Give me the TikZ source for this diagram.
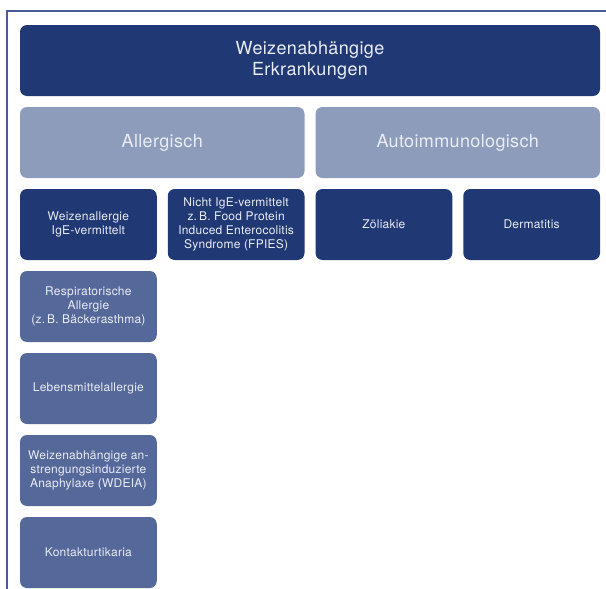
\documentclass[tikz,border=0pt]{standalone}
\usepackage{fontspec}
\setmainfont{TeX Gyre Heros}[LetterSpace=2]
\usetikzlibrary{positioning}
\definecolor{navy}{HTML}{203874}
\definecolor{paleblue}{HTML}{8E9CBC}
\definecolor{midblue}{HTML}{55689A}
\definecolor{frameblue}{HTML}{4A5C96}
\definecolor{boxtext}{HTML}{E9ECF4}
\tikzset{
    box/.style={rectangle, rounded corners=7pt, inner sep=0pt, outer sep=0pt,
      minimum height=71pt, align=center, text=boxtext},
    headbox/.style={box, fill=navy, minimum width=580pt,
      font=\fontsize{18}{21}\selectfont},
    groupbox/.style={box, fill=paleblue, minimum width=284.5pt,
      font=\fontsize{18}{21}\selectfont},
    leafbox/.style={box, fill=navy, minimum width=136.75pt,
      font=\fontsize{12}{14}\selectfont},
    subbox/.style={leafbox, fill=midblue},
}

\begin{document}
\begin{tikzpicture}[x=1pt, y=1pt]
    \tikzset{node distance=11pt}
    \useasboundingbox (0,0) rectangle (606,-589);
    \draw[frameblue, line width=1.6pt] (7,-589) -- (7,-11) -- (606,-11);

    \node[headbox] (head) at (310,-60.5) {Weizenabhängige\\Erkrankungen};

    \node[groupbox, below=of head.south west, anchor=north west] (allerg) {Allergisch};
    \node[groupbox, right=of allerg] (autoimm) {Autoimmunologisch};

    \node[leafbox, below=of allerg.south west, anchor=north west] (weizall) {Weizenallergie\\IgE-vermittelt};
    \node[leafbox, right=of weizall] (nichtige) {Nicht IgE-vermittelt\\z.\,B. Food Protein\\Induced Enterocolitis\\Syndrome (FPIES)};
    \node[leafbox, right=of nichtige] (zoel) {Zöliakie};
    \node[leafbox, right=of zoel] (derm) {Dermatitis};

    \node[subbox, below=of weizall] (resp) {Respiratorische\\Allergie\\(z.\,B. Bäckerasthma)};
    \node[subbox, below=of resp] (lebens) {Lebensmittelallergie};
    \node[subbox, below=of lebens] (wdeia) {Weizenabhängige an-\\strengungsinduzierte\\Anaphylaxe (WDEIA)};
    \node[subbox, below=of wdeia] (kontakt) {Kontakturtikaria};
\end{tikzpicture}
\end{document}
